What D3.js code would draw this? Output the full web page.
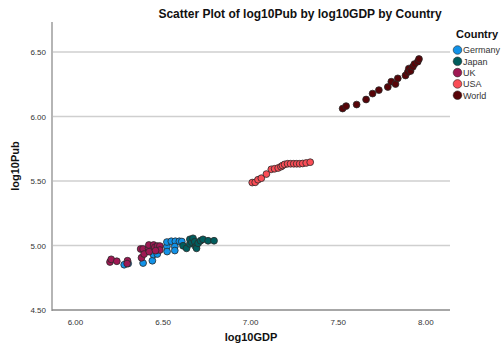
<!DOCTYPE html>
<html>
<head>
<meta charset="utf-8">
<script src="https://cdn.jsdelivr.net/npm/d3@7"></script>
<style>
  html, body { margin: 0; padding: 0; background: #fff; }
  svg { display: block; font-family: "Liberation Sans", Arial, sans-serif; }
</style>
</head>
<body>
<svg id="chart" width="504" height="351"></svg>
<script>
// Country groups and their colours
const countries = ["Germany", "Japan", "UK", "USA", "World"];
const colors = ["#1192e8", "#005d5d", "#9f1853", "#fa4d56", "#570408"];

// log10GDP / log10Pub pairs per country
const germanyGDP = [6.281, 6.304, 6.389, 6.442, 6.448, 6.470, 6.525, 6.526, 6.525, 6.550, 6.573, 6.596, 6.570, 6.570, 6.610];
const germanyPub = [4.851, 4.860, 4.864, 4.882, 4.930, 4.934, 4.992, 4.953, 5.027, 5.033, 5.033, 5.033, 4.992, 4.961, 5.031];

const japanGDP = [6.617, 6.637, 6.656, 6.656, 6.667, 6.674, 6.684, 6.690, 6.694, 6.703, 6.717, 6.731, 6.760, 6.794];
const japanPub = [4.998, 4.978, 5.012, 5.048, 5.025, 5.056, 5.029, 4.991, 4.978, 5.017, 5.037, 5.048, 5.037, 5.037];

const ukGDP = [6.200, 6.207, 6.239, 6.300, 6.298, 6.375, 6.389, 6.380, 6.395, 6.420, 6.422, 6.449, 6.424, 6.456, 6.471, 6.485, 6.485, 6.460];
const ukPub = [4.872, 4.893, 4.878, 4.882, 4.860, 4.973, 4.973, 4.905, 4.934, 4.978, 5.004, 5.004, 4.952, 4.986, 4.996, 4.996, 4.965, 4.960];

const usaGDP = [7.012, 7.029, 7.045, 7.064, 7.093, 7.121, 7.140, 7.160, 7.176, 7.185, 7.197, 7.214, 7.231, 7.249, 7.266, 7.283, 7.300, 7.320, 7.343];
const usaPub = [5.488, 5.490, 5.510, 5.522, 5.554, 5.591, 5.595, 5.601, 5.611, 5.620, 5.629, 5.634, 5.634, 5.634, 5.634, 5.634, 5.636, 5.640, 5.646];

const worldGDP = [7.528, 7.548, 7.608, 7.662, 7.699, 7.735, 7.786, 7.806, 7.830, 7.843, 7.887, 7.900, 7.906, 7.916, 7.929, 7.938, 7.957, 7.964];
const worldPub = [6.062, 6.081, 6.093, 6.132, 6.178, 6.205, 6.229, 6.270, 6.252, 6.296, 6.318, 6.345, 6.372, 6.353, 6.386, 6.407, 6.425, 6.446];

const xTicks = [6.0, 6.5, 7.0, 7.5, 8.0];
const yTicks = [4.5, 5.0, 5.5, 6.0, 6.5];

const seriesGDP = [germanyGDP, japanGDP, ukGDP, usaGDP, worldGDP];
const seriesPub = [germanyPub, japanPub, ukPub, usaPub, worldPub];

const points = [];
countries.forEach((c, i) => {
  seriesGDP[i].forEach((g, j) => points.push({ country: c, gdp: g, pub: seriesPub[i][j] }));
});

const svg = d3.select("#chart");
const plotLeft = 52, plotRight = 450, plotTop = 22, plotBottom = 310;

const x = d3.scaleLinear().domain([5.869, 8.141]).range([plotLeft, plotRight]);
const y = d3.scaleLinear().domain([4.5, 6.733]).range([plotBottom, plotTop]);
const color = d3.scaleOrdinal().domain(countries).range(colors);

// Horizontal gridlines
svg.append("g")
  .selectAll("line")
  .data(yTicks.filter(t => t > 4.5))
  .join("line")
  .attr("x1", plotLeft).attr("x2", plotRight)
  .attr("y1", d => y(d)).attr("y2", d => y(d))
  .attr("stroke", "#cfcfcf").attr("stroke-width", 1.5);

// Y axis
const yAxis = svg.append("g")
  .attr("transform", `translate(${plotLeft},0)`)
  .call(d3.axisLeft(y).tickValues(yTicks).tickFormat(d3.format(".2f")).tickSize(0).tickPadding(6));
yAxis.select(".domain").remove();
yAxis.selectAll("text").attr("font-size", 8).attr("fill", "#333").attr("font-family", "Liberation Sans, Arial, sans-serif");

// X axis
const xAxis = svg.append("g")
  .attr("transform", `translate(0,${plotBottom})`)
  .call(d3.axisBottom(x).tickValues(xTicks).tickFormat(d3.format(".2f")).tickSize(0).tickPadding(9));
xAxis.select(".domain").remove();
xAxis.selectAll("text").attr("font-size", 8).attr("fill", "#333").attr("font-family", "Liberation Sans, Arial, sans-serif");

// Axis frame lines
svg.append("line")
  .attr("x1", plotLeft).attr("x2", plotLeft).attr("y1", plotTop).attr("y2", plotBottom + 1)
  .attr("stroke", "#b5b5b5").attr("stroke-width", 2);
svg.append("line")
  .attr("x1", plotLeft).attr("x2", plotRight).attr("y1", plotBottom).attr("y2", plotBottom)
  .attr("stroke", "#8a8a8a").attr("stroke-width", 1.5);

// Points
svg.append("g")
  .selectAll("circle")
  .data(points)
  .join("circle")
  .attr("cx", d => x(d.gdp))
  .attr("cy", d => y(d.pub))
  .attr("r", 3.4)
  .attr("fill", d => color(d.country))
  .attr("stroke", "#2a2a2a")
  .attr("stroke-width", 0.8);

// Title
svg.append("text")
  .attr("x", 300).attr("y", 18)
  .attr("text-anchor", "middle")
  .attr("font-size", 12).attr("font-weight", "bold").attr("fill", "#111")
  .text("Scatter Plot of log10Pub by log10GDP by Country");

// Axis titles
svg.append("text")
  .attr("x", (plotLeft + plotRight) / 2).attr("y", 341)
  .attr("text-anchor", "middle")
  .attr("font-size", 11).attr("font-weight", "bold").attr("fill", "#111")
  .text("log10GDP");

svg.append("text")
  .attr("transform", `translate(19,${(plotTop + plotBottom) / 2}) rotate(-90)`)
  .attr("text-anchor", "middle")
  .attr("font-size", 11).attr("font-weight", "bold").attr("fill", "#111")
  .text("log10Pub");

// Legend
const legend = svg.append("g").attr("transform", "translate(456,0)");
legend.append("text")
  .attr("x", 0).attr("y", 38)
  .attr("font-size", 11).attr("font-weight", "bold").attr("fill", "#111")
  .text("Country");
const items = legend.selectAll("g.item")
  .data(countries)
  .join("g")
  .attr("class", "item")
  .attr("transform", (d, i) => `translate(0,${50 + i * 11.3})`);
items.append("circle")
  .attr("cx", 1.5).attr("cy", 0).attr("r", 4.3)
  .attr("fill", d => color(d))
  .attr("stroke", "#2a2a2a").attr("stroke-width", 0.6);
items.append("text")
  .attr("x", 7).attr("y", 3.3)
  .attr("font-size", 9).attr("fill", "#333")
  .text(d => d);
</script>
</body>
</html>
